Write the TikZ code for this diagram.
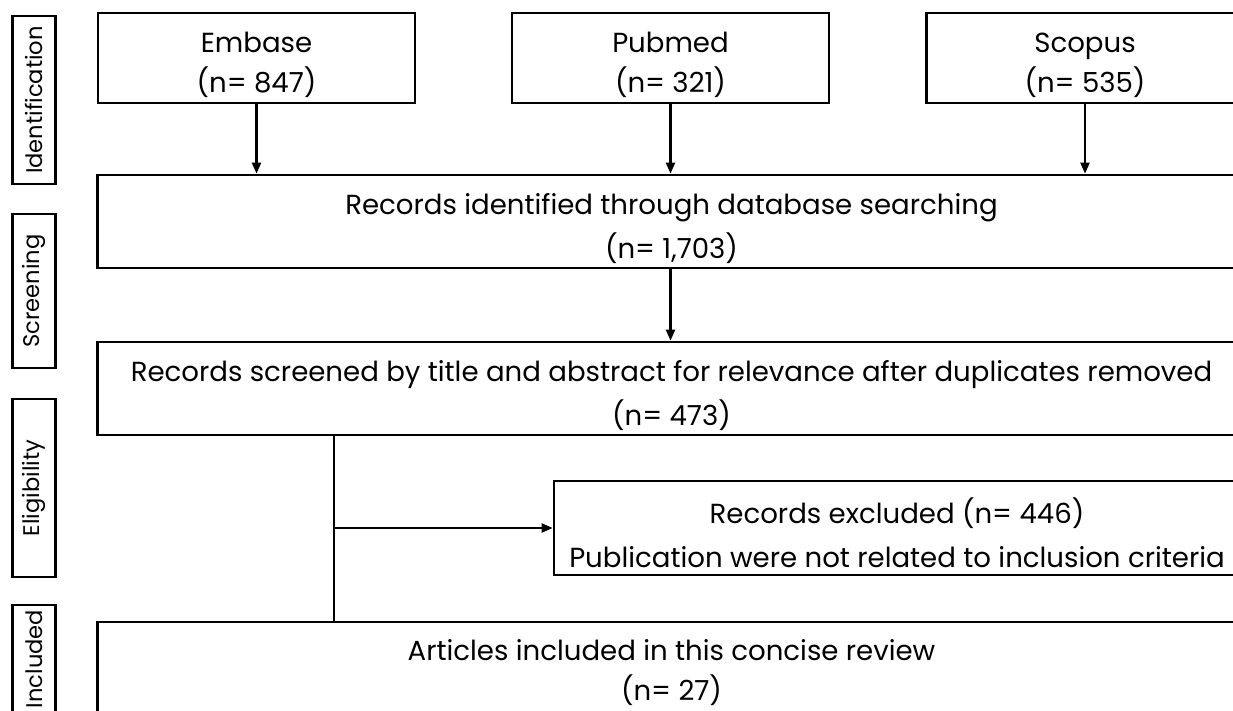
\documentclass[tikz,border=0pt]{standalone}
\usepackage{fontspec}
\setmainfont{Poppins}
\usetikzlibrary{arrows.meta}
\newcommand{\tstrut}{\rule{0pt}{35pt}}
\newcommand{\lowstrut}{\rule{0pt}{22pt}}
\begin{document}
\begin{tikzpicture}[x=1pt,y=-1pt,
  box/.style={draw, line width=2.7pt, inner sep=0pt, align=center,
    font=\fontsize{27.6}{44}\selectfont},
  src/.style={box, minimum width=317pt, minimum height=90pt,
    font=\fontsize{27.6}{40}\selectfont},
  side/.style={draw, line width=2.7pt, inner sep=0pt, rotate=90,
    minimum height=43.5pt, font=\fontsize{22.6}{26}\selectfont},
  arr/.style={line width=2.2pt, -{Triangle[length=11pt,width=9pt]}},
  ln/.style={line width=2.2pt}]
\useasboundingbox (0,0) rectangle (1233,711);
% side labels
\node[side, minimum width=168pt] (lid) at (34,100) {Identification};
\node[side, minimum width=154pt] (lsc) at (34,291) {Screening};
\node[side, minimum width=178pt] (lel) at (34,488) {Eligibility};
\node[side, minimum width=108pt] (lin) at (34,659) {Included};
% sources
\node[src] (emb) at (256.5,58) {\tstrut Embase\\(n= 847)};
\node[src] (pub) at (670.5,58) {\tstrut Pubmed\\(n= 321)};
\node[src] (sco) at (1085,58) {\tstrut Scopus\\(n= 535)};
% main boxes
\node[box, minimum width=1148pt, minimum height=93pt] (rec) at (671.5,221.5) {\tstrut Records identified through database searching\\(n= 1,703)};
\node[box, minimum width=1148pt, minimum height=93pt] (scr) at (671.5,388.5) {\tstrut Records screened by title and abstract for relevance after duplicates removed\\(n= 473)};
\node[box, minimum width=686pt, minimum height=94pt] (exc) at (897,528) {\tstrut Records excluded (n= 446)\\Publication were not related to inclusion criteria};
\node[box, minimum width=1148pt, minimum height=100pt,
  font=\fontsize{27.6}{40}\selectfont] (inc) at (671.5,672) {\lowstrut Articles included in this concise review\\(n= 27)};
% connectors
\draw[arr] (emb) -- (emb |- rec.north);
\draw[arr] (pub) -- (pub |- rec.north);
\draw[arr] (sco) -- (sco |- rec.north);
\draw[arr] (rec.south -| pub) -- (scr.north -| pub);
\coordinate (br) at (334,0);
\draw[ln] (scr.south -| br) -- (inc.north -| br);
\draw[arr] (br |- exc.west) -- (exc.west);
\end{tikzpicture}
\end{document}
